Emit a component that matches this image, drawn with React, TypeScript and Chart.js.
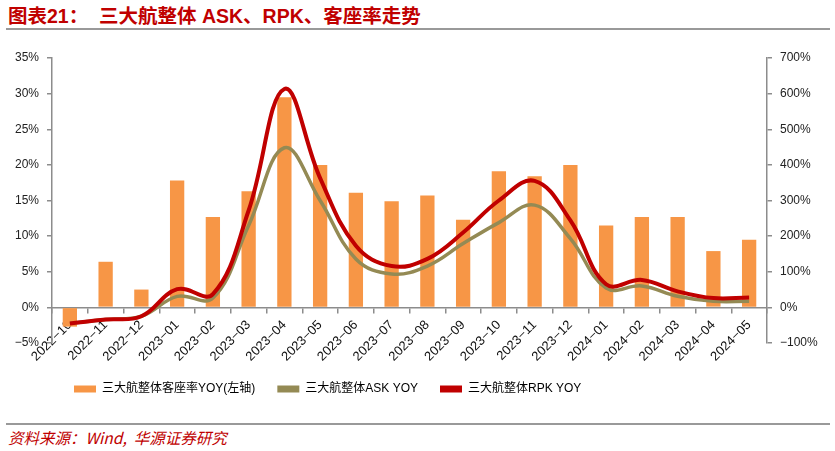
import React, { useEffect, useRef } from "react";
import { Chart, registerables } from "chart.js";

Chart.register(...registerables);

const categories = [
  "2022−10", "2022−11", "2022−12", "2023−01", "2023−02", "2023−03", "2023−04",
  "2023−05", "2023−06", "2023−07", "2023−08", "2023−09", "2023−10", "2023−11",
  "2023−12", "2024−01", "2024−02", "2024−03", "2024−04", "2024−05",
];

// 三大航整体客座率YOY (left axis, %)
const loadFactorYoy = [
  -2.7, 6.4, 2.5, 17.8, 12.7, 16.3, 29.5, 20.0, 16.1, 14.9,
  15.7, 12.3, 19.1, 18.4, 20.0, 11.5, 12.7, 12.7, 7.9, 9.5,
];

// 三大航整体ASK YOY (right axis, %)
const askYoy = [
  -45, -34, -25, 31, 26, 230, 448, 300, 136, 94,
  116, 179, 238, 287, 193, 54, 60, 31, 17, 17,
];

// 三大航整体RPK YOY (right axis, %)
const rpkYoy = [
  -45, -34, -25, 51, 37, 272, 613, 363, 173, 116,
  136, 210, 300, 355, 244, 65, 77, 45, 26, 28,
];

const leftTicks = [-5, 0, 5, 10, 15, 20, 25, 30, 35];
const rightTicks = [-100, 0, 100, 200, 300, 400, 500, 600, 700];

const seriesNames = ["三大航整体客座率YOY(左轴)", "三大航整体ASK YOY", "三大航整体RPK YOY"];
const seriesColors = ["#F79646", "#948A54", "#C00000"];

const FONT = "'Liberation Sans', Arial, 'Noto Sans CJK SC', sans-serif";
const AXIS = "#8c8c8c";

const fmt = (v: number) => (v < 0 ? "−" + Math.abs(v) : String(v)) + "%";

export default function App() {
  const ref = useRef<HTMLCanvasElement | null>(null);

  useEffect(() => {
    if (!ref.current) return;
    const chart = new Chart(ref.current, {
      type: "bar",
      data: {
        labels: categories,
        datasets: [
          {
            type: "bar",
            label: seriesNames[0],
            data: loadFactorYoy,
            backgroundColor: seriesColors[0],
            yAxisID: "y",
            categoryPercentage: 1,
            barPercentage: 0.4,
            order: 3,
          },
          {
            type: "line",
            label: seriesNames[1],
            data: askYoy,
            borderColor: seriesColors[1],
            backgroundColor: seriesColors[1],
            borderWidth: 3.5,
            pointRadius: 0,
            tension: 0.4,
            yAxisID: "y1",
            order: 2,
          },
          {
            type: "line",
            label: seriesNames[2],
            data: rpkYoy,
            borderColor: seriesColors[2],
            backgroundColor: seriesColors[2],
            borderWidth: 4,
            pointRadius: 0,
            tension: 0.4,
            yAxisID: "y1",
            order: 1,
          },
        ],
      },
      options: {
        responsive: false,
        animation: false,
        layout: { padding: { top: 23, left: 0, right: 0, bottom: 0 } },
        plugins: {
          tooltip: { enabled: false },
          legend: {
            position: "bottom",
            align: "start",
            fullSize: false,
            labels: {
              boxWidth: 22,
              boxHeight: 7,
              padding: 22,
              color: "#222",
              font: { size: 12, family: FONT },
              generateLabels: (c: any) =>
                c.data.datasets.map((d: any, i: number) => ({
                  text: d.label,
                  fillStyle: seriesColors[i],
                  strokeStyle: seriesColors[i],
                  lineWidth: 0,
                  hidden: false,
                  datasetIndex: i,
                })),
            },
          },
        },
        scales: {
          x: {
            type: "category",
            position: { y: 0 } as any,
            offset: true,
            grid: {
              display: true,
              offset: true,
              drawOnChartArea: false,
              drawTicks: true,
              tickLength: 5,
              color: AXIS,
              lineWidth: 1.5,
            },
            border: { display: true, color: AXIS, width: 1.5 },
            ticks: {
              autoSkip: false,
              minRotation: 45,
              maxRotation: 45,
              padding: 5,
              color: "#111",
              font: { size: 13, family: FONT },
            },
          },
          xpad: {
            type: "category",
            position: "bottom",
            display: true,
            grid: { display: false },
            border: { display: false },
            ticks: { display: false },
            afterFit: (s: any) => {
              s.height = 18;
            },
          },
          y: {
            type: "linear",
            position: "left",
            min: -5,
            max: 35,
            afterBuildTicks: (s: any) => {
              s.ticks = leftTicks.map((v) => ({ value: v }));
            },
            afterFit: (s: any) => {
              s.width = 52;
            },
            grid: {
              display: true,
              drawOnChartArea: false,
              drawTicks: true,
              tickLength: 5,
              color: AXIS,
              lineWidth: 1.5,
            },
            border: { display: true, color: AXIS, width: 1.5 },
            ticks: {
              padding: 8,
              color: "#222",
              font: { size: 12, family: FONT },
              callback: (v: any) => fmt(Number(v)),
            },
          },
          y1: {
            type: "linear",
            position: "right",
            min: -100,
            max: 700,
            afterBuildTicks: (s: any) => {
              s.ticks = rightTicks.map((v) => ({ value: v }));
            },
            afterFit: (s: any) => {
              s.width = 68;
            },
            grid: {
              display: true,
              drawOnChartArea: false,
              drawTicks: true,
              tickLength: 5,
              color: AXIS,
              lineWidth: 1.5,
            },
            border: { display: true, color: AXIS, width: 1.5 },
            ticks: {
              padding: 8,
              color: "#222",
              font: { size: 12, family: FONT },
              callback: (v: any) => fmt(Number(v)),
            },
          },
        },
      },
    });
    return () => chart.destroy();
  }, []);

  return (
    <div
      style={{
        position: "fixed",
        left: 0,
        top: 0,
        width: 835,
        height: 451,
        background: "#fff",
        overflow: "hidden",
      }}
    >
      <div
        style={{
          position: "absolute",
          left: 8,
          top: 4,
          fontFamily: FONT,
          fontWeight: "bold",
          fontSize: 19.5,
          lineHeight: "24px",
          color: "#C00000",
          whiteSpace: "pre",
        }}
      >
        {"图表21：  三大航整体 ASK、RPK、客座率走势"}
      </div>
      <div
        style={{
          position: "absolute",
          left: 6,
          top: 28,
          width: 824,
          height: 2,
          background: "#999",
        }}
      />
      <canvas
        ref={ref}
        width={835}
        height={370}
        style={{ position: "absolute", left: 0, top: 35, width: 835, height: 370 }}
      />
      <div
        style={{
          position: "absolute",
          left: 6,
          top: 423,
          width: 824,
          height: 2,
          background: "#999",
        }}
      />
      <div
        style={{
          position: "absolute",
          left: 8,
          top: 428,
          fontFamily: "'Noto Sans CJK SC', sans-serif",
          fontStyle: "italic",
          fontSize: 15.5,
          lineHeight: "18px",
          color: "#C00000",
          whiteSpace: "pre",
        }}
      >
        {"资料来源：Wind,  华源证券研究"}
      </div>
    </div>
  );
}
